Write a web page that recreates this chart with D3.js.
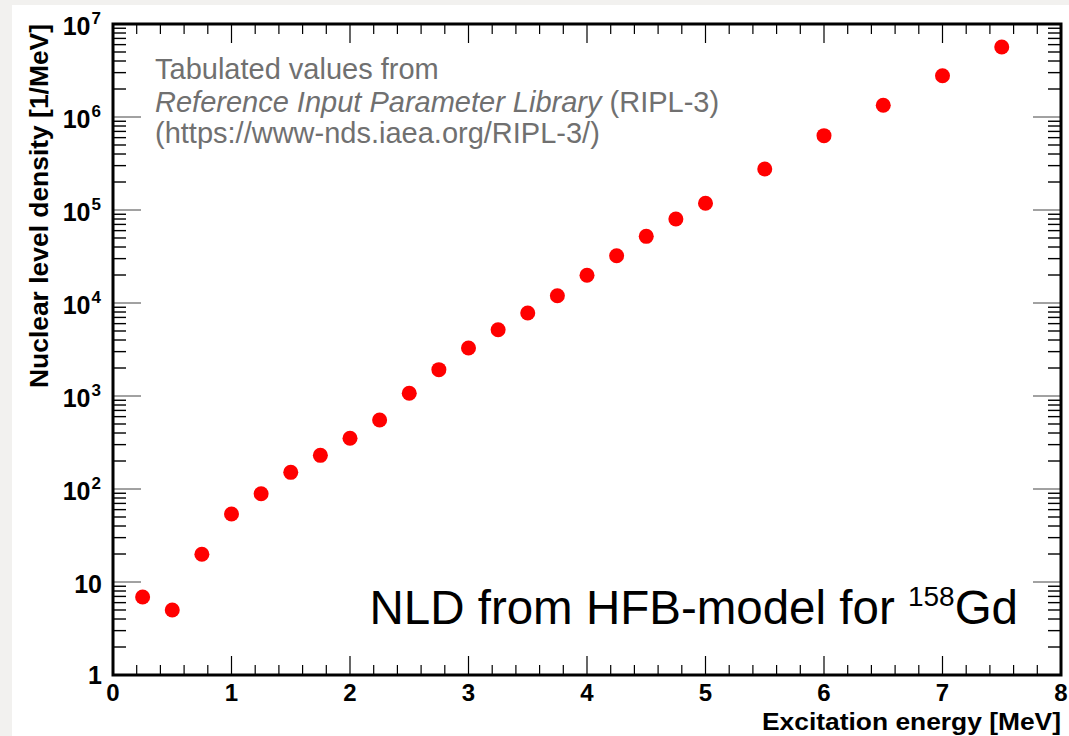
<!DOCTYPE html>
<html><head><meta charset="utf-8">
<script src="https://cdn.jsdelivr.net/npm/d3@7"></script>
<style>html,body{margin:0;padding:0;background:#f2f1ef;}svg{display:block;}</style>
</head><body>
<svg id="c" width="1069" height="736"></svg>
<script>
const energies = [0.25,0.5,0.75,1.0,1.25,1.5,1.75,2.0,2.25,2.5,2.75,3.0,3.25,3.5,3.75,4.0,4.25,4.5,4.75,5.0,5.5,6.0,6.5,7.0,7.5];
const densities = [6.9,5.0,19.9,53.8,89,151,230,351,552,1069,1919,3283,5164,7803,11980,19850,32270,52100,80000,118000,276000,630000,1340000,2780000,5660000];
const xTicks = [0,1,2,3,4,5,6,7,8];
const yDecades = [0,1,2,3,4,5,6,7];
const xTitle = "Excitation energy [MeV]";
const yTitle = "Nuclear level density [1/MeV]";
const noteLines = ["Tabulated values from", "Reference Input Parameter Library", " (RIPL-3)", "(https://www-nds.iaea.org/RIPL-3/)"];

const svg = d3.select("#c");
const L=113, R=1061, T=24, B=675;
const x = d3.scaleLinear().domain([0,8]).range([L,R]);
const y = d3.scaleLog().domain([1,1e7]).range([B,T]);

svg.append("rect").attr("x",12).attr("y",5).attr("width",1057).attr("height",731).attr("fill","#ffffff");

const g = svg.append("g");
// x ticks (bottom & top)
const xMinor = d3.range(0,8.0001,0.2).map(v=>+v.toFixed(2));
xMinor.forEach(v=>{
  const major = Math.abs(v-Math.round(v))<1e-6;
  const len = major?19:10;
  g.append("line").attr("x1",x(v)).attr("x2",x(v)).attr("y1",B).attr("y2",B-len).attr("stroke","#000").attr("stroke-width",1.2);
  g.append("line").attr("x1",x(v)).attr("x2",x(v)).attr("y1",T).attr("y2",T+len).attr("stroke","#000").attr("stroke-width",1.2);
});
// y ticks (left & right)
yDecades.forEach(d=>{
  const base = Math.pow(10,d);
  if(d>0 && d<7){
    g.append("line").attr("x1",L).attr("x2",L+28).attr("y1",y(base)).attr("y2",y(base)).attr("stroke","#444").attr("stroke-width",1);
    g.append("line").attr("x1",R).attr("x2",R-28).attr("y1",y(base)).attr("y2",y(base)).attr("stroke","#444").attr("stroke-width",1);
  }
  if(d<7){
    for(let k=2;k<=9;k++){
      const yy = y(base*k);
      g.append("line").attr("x1",L).attr("x2",L+13).attr("y1",yy).attr("y2",yy).attr("stroke","#000").attr("stroke-width",1.4);
      g.append("line").attr("x1",R).attr("x2",R-13).attr("y1",yy).attr("y2",yy).attr("stroke","#000").attr("stroke-width",1.4);
    }
  }
});
// frame
g.append("rect").attr("x",L).attr("y",T).attr("width",R-L).attr("height",B-T).attr("fill","none").attr("stroke","#000").attr("stroke-width",3);

// x tick labels
const lab = svg.append("g").attr("font-family","'Liberation Sans',Arial,sans-serif").attr("font-weight","bold").attr("fill","#000");
xTicks.forEach(v=>{
  lab.append("text").attr("x",x(v)).attr("y",701).attr("text-anchor","middle").attr("font-size",24).text(v);
});
// y tick labels
yDecades.forEach(d=>{
  const yy = y(Math.pow(10,d));
  if(d===0){
    lab.append("text").attr("x",102).attr("y",yy+9).attr("text-anchor","end").attr("font-size",25).text("1");
  } else if(d===1){
    lab.append("text").attr("x",102).attr("y",yy+11).attr("text-anchor","end").attr("font-size",25).text("10");
  } else {
    const t = lab.append("text").attr("x",101).attr("y",yy+11).attr("text-anchor","end").attr("font-size",25);
    t.append("tspan").text("10");
    t.append("tspan").attr("font-size",17).attr("dy",-11).attr("dx",1).text(d);
  }
});
// axis titles
lab.append("text").attr("x",R).attr("y",730).attr("text-anchor","end").attr("font-size",24)
  .attr("textLength",299).attr("lengthAdjust","spacingAndGlyphs").text(xTitle);
lab.append("text").attr("transform","translate(48,24) rotate(-90)").attr("text-anchor","end").attr("font-size",25)
  .attr("textLength",364).attr("lengthAdjust","spacingAndGlyphs").text(yTitle);

// points
svg.append("g").selectAll("circle").data(energies.map((e,i)=>[e,densities[i]])).join("circle")
  .attr("cx",d=>x(d[0])).attr("cy",d=>y(d[1])).attr("r",7.5).attr("fill","#ff0000");

// annotation
const note = svg.append("g").attr("font-family","'Liberation Sans',Arial,sans-serif").attr("fill","#707070").attr("font-size",29);
note.append("text").attr("x",155).attr("y",79).text(noteLines[0]);
const l2 = note.append("text").attr("x",155).attr("y",112);
l2.append("tspan").attr("font-style","italic").text(noteLines[1]);
l2.append("tspan").text(noteLines[2]);
note.append("text").attr("x",155).attr("y",143).text(noteLines[3]);

// NLD label
const nld = svg.append("text").attr("font-family","'Liberation Sans',Arial,sans-serif").attr("fill","#000").attr("x",1018).attr("y",624).attr("text-anchor","end").attr("font-size",47.5);
nld.append("tspan").text("NLD from HFB-model for ");
nld.append("tspan").attr("font-size",28).attr("dy",-18).text("158");
nld.append("tspan").attr("dy",18).text("Gd");
</script>
</body></html>
